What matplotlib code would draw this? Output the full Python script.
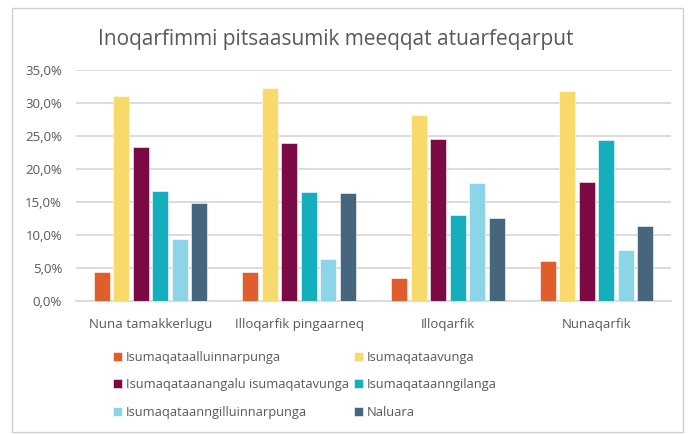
import matplotlib
matplotlib.use("Agg")
import matplotlib.pyplot as plt
from matplotlib.patches import Rectangle
from matplotlib.ticker import FuncFormatter
import numpy as np

categories = ["Nuna tamakkerlugu", "Illoqarfik pingaarneq", "Illoqarfik", "Nunaqarfik"]
series_names = ["Isumaqataalluinnarpunga", "Isumaqataavunga",
                "Isumaqataanangalu isumaqatavunga", "Isumaqataanngilanga",
                "Isumaqataanngilluinnarpunga", "Naluara"]
s1 = [4.35, 4.35, 3.45, 6.1]
s2 = [31.1, 32.2, 28.2, 31.8]
s3 = [23.3, 24.0, 24.6, 18.1]
s4 = [16.7, 16.5, 13.1, 24.45]
s5 = [9.35, 6.4, 17.9, 7.8]
s6 = [14.85, 16.3, 12.6, 11.4]
values = [s1, s2, s3, s4, s5, s6]
colors = ["#E05E2B", "#F8D96C", "#7B0943", "#15AEBC", "#8CD5E8", "#45667D"]
title = "Inoqarfimmi pitsaasumik meeqqat atuarfeqarput"

plt.rcParams['font.family'] = ['Open Sans', 'DejaVu Sans']
txt = "#595959"

fig = plt.figure(figsize=(6.91, 4.34), dpi=100)
fig.patches.append(Rectangle((12/691, 1 - 432/434), (683-12)/691, (432-8)/434,
                             transform=fig.transFigure, fill=False,
                             edgecolor="#D0D0D0", linewidth=1.0))
ax = fig.add_axes([76/691, 1 - 301/434, (671-76)/691, (301-70)/434])

x = np.arange(len(categories))
slot = 0.131
bw = 0.108
for i, (vals, c, name) in enumerate(zip(values, colors, series_names)):
    off = (i - 2.5) * slot
    ax.bar(x + off, np.array(vals) / 100, width=bw, color=c, label=name,
           edgecolor="white", linewidth=0.4, zorder=3)

ax.set_xlim(-0.5, len(categories) - 0.5)
ax.set_ylim(0, 0.35)
ax.set_yticks(np.arange(0, 0.351, 0.05))
ax.yaxis.set_major_formatter(FuncFormatter(lambda v, p: f"{v*100:.1f}%".replace(".", ",")))
ax.grid(axis="y", color="#D9D9D9", linewidth=1.3, zorder=0)
for sp in ["top", "right", "left"]:
    ax.spines[sp].set_visible(False)
ax.spines["bottom"].set_color("#D9D9D9")
ax.spines["bottom"].set_linewidth(1.3)
ax.tick_params(axis="both", length=0, colors=txt)
ax.tick_params(axis="y", pad=10, labelsize=9.5)
ax.tick_params(axis="x", pad=12, labelsize=9.5)
ax.set_xticks(x)
ax.set_xticklabels(categories)

fig.text(336/691, 1 - 40/434, title, ha="center", va="center", fontsize=15, color=txt)

handles, labels = ax.get_legend_handles_labels()
order = [0, 2, 4, 1, 3, 5]
leg = fig.legend([handles[k] for k in order], [labels[k] for k in order],
                 loc="upper left", bbox_to_anchor=(101/691, 1 - 339/434), ncol=2,
                 frameon=False, fontsize=9.3, labelcolor=txt,
                 handlelength=0.7, handleheight=0.7, handletextpad=0.3,
                 columnspacing=0.4, labelspacing=1.15)

fig.savefig("out.png", dpi=100, facecolor="white")
